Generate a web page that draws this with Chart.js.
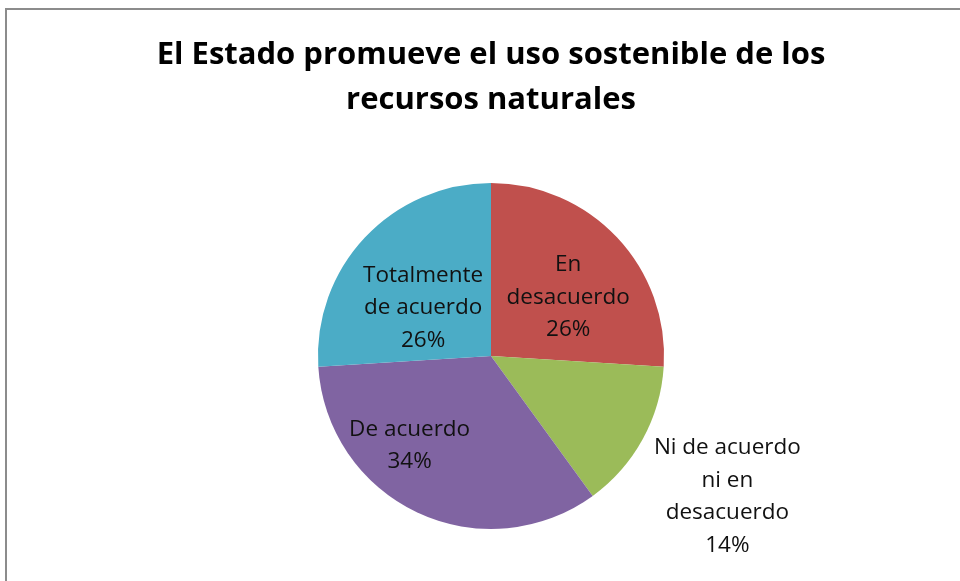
<!DOCTYPE html>
<html>
<head>
<meta charset="utf-8">
<script src="https://cdn.jsdelivr.net/npm/chart.js@4"></script>
<style>
  html, body { margin: 0; padding: 0; background: #fff; }
  #wrap { width: 960px; height: 581px; position: relative; }
</style>
</head>
<body>
<div id="wrap"><canvas id="pie"></canvas></div>
<script>
// datos del gráfico
const titleLines = ['El Estado promueve el uso sostenible de los', 'recursos naturales'];
const categories = ['En desacuerdo', 'Ni de acuerdo ni en desacuerdo', 'De acuerdo', 'Totalmente de acuerdo'];
const values = [26, 14, 34, 26];
const labelLines = [
    ['En', 'desacuerdo'],
    ['Ni de acuerdo', 'ni en', 'desacuerdo'],
    ['De acuerdo'],
    ['Totalmente', 'de acuerdo']
];
const sliceColors = ['#C0504D', '#9BBB59', '#8064A2', '#4BACC6'];

// posición de cada etiqueta: fracción del radio y ajuste de ángulo (grados)
const labelPlace = [
    { r: 0.56, da: 6 },
    { r: 1.59, da: 2 },
    { r: 0.70, da: 17 },
    { r: 0.48, da: -8 }
];

const FONT = '"Open Sans", Lato, sans-serif';

const frame = {
    id: 'frame',
    beforeDraw(chart) {
        const ctx = chart.ctx;
        ctx.save();
        ctx.strokeStyle = '#8c8c8c';
        ctx.lineWidth = 2;
        ctx.strokeRect(6, 9, 1200, 1200);
        ctx.restore();
    }
};

const sliceLabels = {
    id: 'sliceLabels',
    afterDatasetsDraw(chart) {
        const ctx = chart.ctx;
        const meta = chart.getDatasetMeta(0);
        const total = values.reduce((a, b) => a + b, 0);
        ctx.save();
        ctx.font = '22.5px ' + FONT;
        ctx.fillStyle = '#111';
        ctx.textAlign = 'center';
        ctx.textBaseline = 'middle';
        meta.data.forEach((arc, i) => {
            const p = arc.getProps(['x', 'y', 'startAngle', 'endAngle', 'outerRadius'], true);
            const mid = (p.startAngle + p.endAngle) / 2 + labelPlace[i].da * Math.PI / 180;
            const dist = p.outerRadius * labelPlace[i].r;
            const cx = p.x + Math.cos(mid) * dist;
            const cy = p.y + Math.sin(mid) * dist;
            const lines = labelLines[i].concat([Math.round(values[i] / total * 100) + '%']);
            const lh = 32.5;
            const y0 = cy - (lines.length - 1) * lh / 2;
            lines.forEach((t, k) => ctx.fillText(t, cx, y0 + k * lh));
        });
        ctx.restore();
    }
};

new Chart(document.getElementById('pie'), {
    type: 'pie',
    data: {
        labels: categories,
        datasets: [{
            data: values,
            backgroundColor: sliceColors,
            borderWidth: 0
        }]
    },
    options: {
        responsive: true,
        maintainAspectRatio: false,
        animation: false,
        layout: { padding: { left: 22, right: 0, top: 0, bottom: 52 } },
        plugins: {
            legend: { display: false },
            tooltip: { enabled: false },
            title: {
                display: true,
                text: titleLines,
                color: '#000',
                font: { family: FONT, size: 31, weight: 'bold', lineHeight: 1.45 },
                padding: { top: 33, bottom: 60 }
            }
        }
    },
    plugins: [frame, sliceLabels]
});
</script>
</body>
</html>
